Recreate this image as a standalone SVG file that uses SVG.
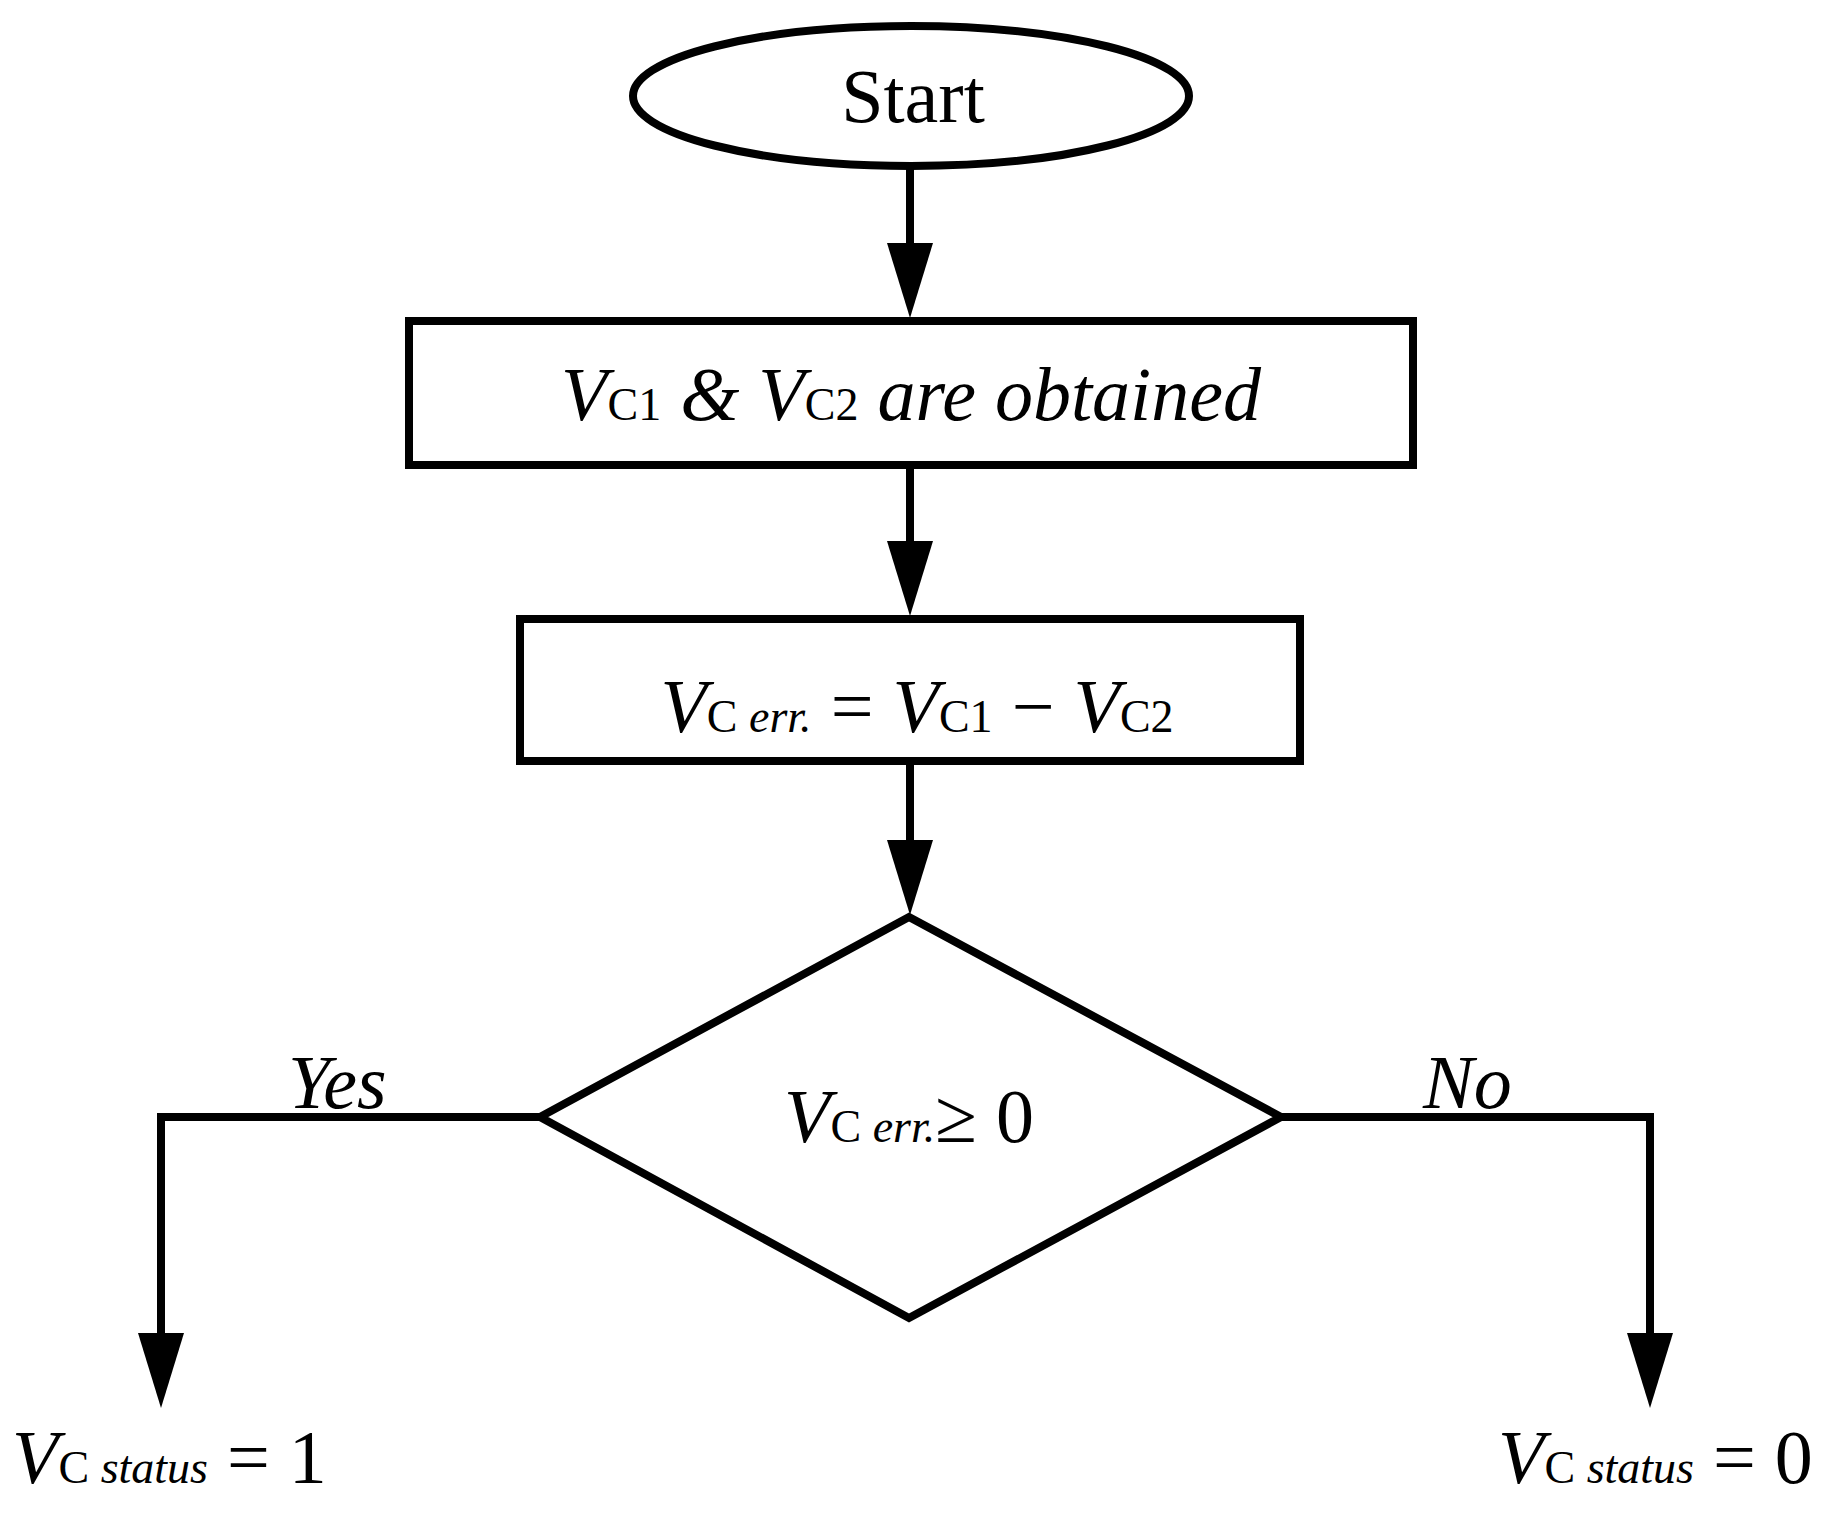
<svg xmlns="http://www.w3.org/2000/svg" width="1831" height="1516" viewBox="0 0 1831 1516">
<style>
.s{fill:none;stroke:#000;stroke-width:8}
.t{font-family:"Liberation Serif",serif;font-size:76px;fill:#000}
.i{font-style:italic}
.sub{font-size:46px}
</style>
<rect width="1831" height="1516" fill="#fff"/>
<g id="connectors">
<line class="s" x1="910" y1="166" x2="910" y2="243"/>
<path d="M887,243 L933,243 L910,318 Z"/>
<line class="s" x1="910" y1="465" x2="910" y2="541"/>
<path d="M887,541 L933,541 L910,616 Z"/>
<line class="s" x1="910" y1="761" x2="910" y2="840"/>
<path d="M887,840 L933,840 L910,915 Z"/>
<polyline class="s" points="540,1117 161,1117 161,1333"/>
<path d="M138,1333 L184,1333 L161,1408 Z"/>
<polyline class="s" points="1281,1117 1650,1117 1650,1333"/>
<path d="M1627,1333 L1673,1333 L1650,1408 Z"/>
<text class="t i" x="288" y="1108">Yes</text>
<text class="t i" x="1423" y="1108">No</text>
</g>
<g id="start">
<ellipse class="s" cx="911" cy="96" rx="278" ry="70"/>
<text class="t" x="913" y="122" text-anchor="middle" font-size="80">Start</text>
</g>
<g id="obtain">
<rect class="s" x="409" y="321" width="1004" height="144"/>
<text class="t i" x="911" y="420" text-anchor="middle">V<tspan class="sub" font-style="normal">C1</tspan> &amp; V<tspan class="sub" font-style="normal">C2</tspan> are obtained</text>
</g>
<g id="err">
<rect class="s" x="520" y="619" width="780" height="142"/>
<text class="t" x="917" y="732" text-anchor="middle"><tspan class="i">V</tspan><tspan class="sub">C </tspan><tspan class="sub i">err.</tspan> = <tspan class="i">V</tspan><tspan class="sub">C1</tspan> − <tspan class="i">V</tspan><tspan class="sub">C2</tspan></text>
</g>
<g id="decision">
<polygon class="s" points="909,917 1281,1117 909,1318 540,1117"/>
<text class="t" x="909" y="1142" text-anchor="middle"><tspan class="i">V</tspan><tspan class="sub">C </tspan><tspan class="sub i">err.</tspan>≥  0</text>
</g>
<g id="yes">
<text class="t" x="12" y="1483"><tspan class="i">V</tspan><tspan class="sub">C </tspan><tspan class="sub i">status</tspan> = 1</text>
</g>
<g id="no">
<text class="t" x="1498" y="1483"><tspan class="i">V</tspan><tspan class="sub">C </tspan><tspan class="sub i">status</tspan> = 0</text>
</g>
</svg>
